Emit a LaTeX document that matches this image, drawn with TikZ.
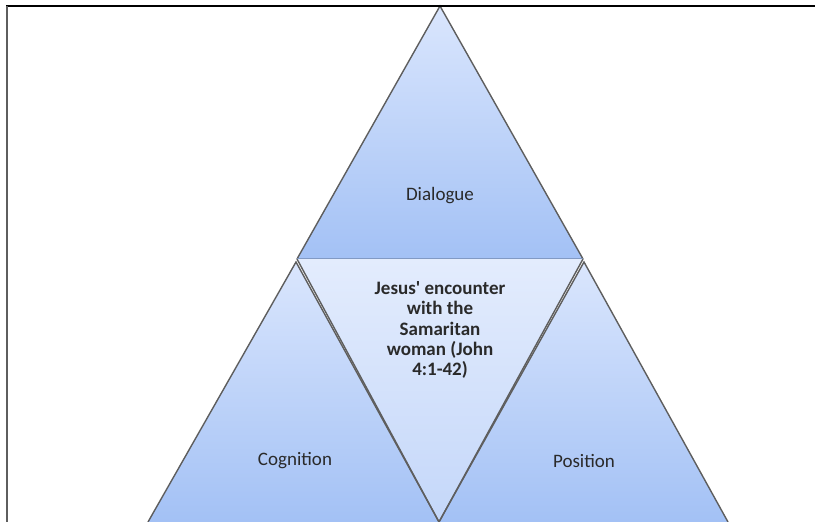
\documentclass[tikz,border=0pt]{standalone}
\usepackage{fontspec}
\setmainfont{Carlito}
\definecolor{tripale}{HTML}{DAE6FD}
\definecolor{trideep}{HTML}{A3C1F5}
\definecolor{midpale}{HTML}{E3ECFD}
\definecolor{middeep}{HTML}{C4D7F9}
\definecolor{triline}{HTML}{5E5E5E}
\definecolor{txt}{HTML}{2A2A2A}
\tikzset{
  tri/.style={top color=tripale,bottom color=trideep},
  midtri/.style={top color=midpale,bottom color=middeep},
  edge/.style={draw=triline,line width=0.7pt},
  label/.style={text=txt,font=\fontsize{9.5}{10.2}\selectfont,align=center}
}
\begin{document}
\begin{tikzpicture}[x=0.5pt,y=-0.5pt]
    \useasboundingbox (0,0) rectangle (815,522);
    \coordinate (T0) at (440,6);
    \coordinate (T1) at (297,259);
    \coordinate (T2) at (583,259);
    \coordinate (L0) at (296,262);
    \coordinate (R0) at (584,262);
    \coordinate (B0) at (148,522);
    \coordinate (B1) at (439,522);
    \coordinate (B2) at (728,522);
    % the four triangles
    \shade[tri] (T0) -- (T1) -- (T2) -- cycle;
    \shade[tri] (L0) -- (B0) -- (B1) -- cycle;
    \shade[tri] (R0) -- (B1) -- (B2) -- cycle;
    \shade[midtri] (T1) -- (T2) -- (B1) -- cycle;
    \draw[edge] (T1) -- (T0) -- (T2);
    \draw[draw=trideep!80!black,line width=0.5pt] (T1) -- (T2);
    \draw[edge] (B0) -- (L0) -- (B1);
    \draw[edge] (B2) -- (R0) -- (B1);
    \draw[edge] (T1) -- (B1) -- (T2);
    % frame
    \draw[black,line width=1pt] (6,6) -- (815,6);
    \draw[triline,line width=1.1pt] (7,6) -- (7,522);
    \node[label] (dialogue) at (440,196) {Dialogue};
    \node[label] (cognition) at (295,461) {Cognition};
    \node[label] (position) at (584,461) {Position};
    \node[label,font=\fontsize{9.5}{10.2}\selectfont\bfseries] (encounter) at (440,330)
      {Jesus\textquotesingle{} encounter\\with the\\Samaritan\\woman (John\\4:1-42)};
\end{tikzpicture}
\end{document}
